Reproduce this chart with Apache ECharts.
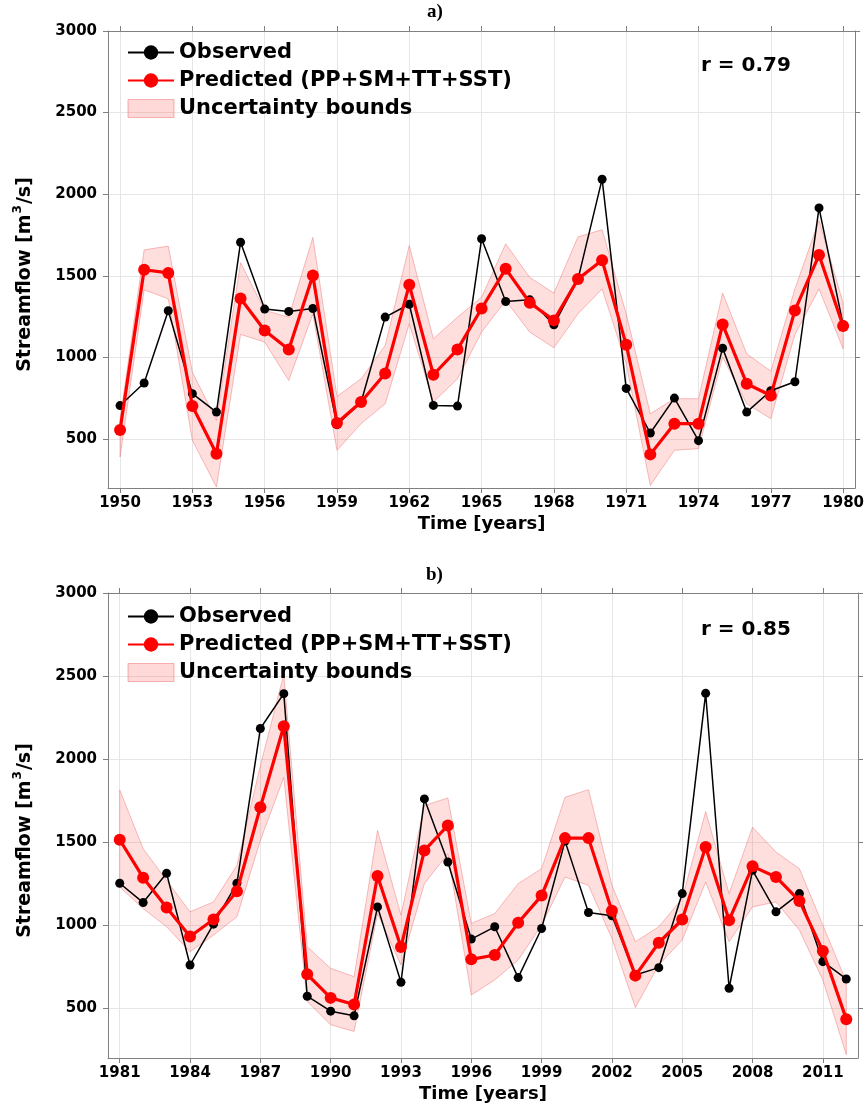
<!doctype html>
<html>
<head>
<meta charset="utf-8">
<script src="https://cdn.jsdelivr.net/npm/echarts@6/dist/echarts.min.js"></script>
<style>
	html, body { margin: 0; padding: 0; background: #fff; }
	#chart { width: 867px; height: 1109px; }
</style>
</head>
<body>
<div id="chart"></div>
<script>
// panel a) 1950-1980
var yearsA = [1950, 1951, 1952, 1953, 1954, 1955, 1956, 1957, 1958, 1959, 1960, 1961, 1962, 1963, 1964, 1965,
	1966, 1967, 1968, 1969, 1970, 1971, 1972, 1973, 1974, 1975, 1976, 1977, 1978, 1979, 1980]
var observedA = [705, 843, 1286, 778, 665, 1706, 1296, 1282, 1300, 588, 725, 1247, 1326, 706, 702, 1727,
	1343, 1353, 1200, 1480, 2092, 810, 537, 751, 490, 1057, 665, 796, 851, 1916, 1200]
var predictedA = [555, 1537, 1518, 702, 410, 1361, 1165, 1049, 1502, 598, 727, 902, 1445, 894, 1049, 1300,
	1543, 1335, 1227, 1480, 1596, 1078, 406, 594, 594, 1202, 839, 767, 1288, 1627, 1192]
var upperA = [620, 1659, 1682, 910, 614, 1580, 1288, 1247, 1735, 761, 869, 1073, 1686, 1114, 1247, 1369,
	1696, 1490, 1394, 1739, 1782, 1267, 655, 747, 747, 1394, 1022, 916, 1420, 1839, 1333]
var lowerA = [390, 1414, 1359, 492, 206, 1141, 1094, 859, 1267, 431, 594, 716, 1206, 727, 869, 1155,
	1349, 1155, 1059, 1267, 1420, 961, 216, 431, 441, 1002, 716, 625, 1140, 1420, 1053]

// panel b) 1981-2012
var yearsB = [1981, 1982, 1983, 1984, 1985, 1986, 1987, 1988, 1989, 1990, 1991, 1992, 1993, 1994, 1995, 1996,
	1997, 1998, 1999, 2000, 2001, 2002, 2003, 2004, 2005, 2006, 2007, 2008, 2009, 2010, 2011, 2012]
var observedB = [1252, 1136, 1312, 760, 1006, 1252, 2184, 2394, 572, 482, 454, 1110, 656, 1760, 1380, 916,
	990, 684, 980, 1506, 1076, 1056, 700, 744, 1190, 2396, 620, 1330, 1080, 1190, 780, 676]
var predictedB = [1514, 1286, 1106, 932, 1034, 1204, 1710, 2198, 704, 562, 522, 1296, 868, 1450, 1600, 794,
	820, 1014, 1178, 1524, 1524, 1086, 696, 894, 1034, 1470, 1030, 1354, 1290, 1146, 844, 434]
var upperB = [1814, 1460, 1270, 1080, 1140, 1360, 1960, 2510, 870, 740, 690, 1570, 1060, 1720, 1766, 1010,
	1070, 1250, 1340, 1770, 1816, 1240, 900, 990, 1160, 1684, 1190, 1590, 1440, 1340, 1000, 660]
var lowerB = [1230, 1100, 990, 840, 940, 1050, 1510, 1890, 540, 400, 360, 1070, 760, 1250, 1430, 580,
	670, 790, 1000, 1290, 1240, 920, 504, 760, 910, 1260, 900, 1110, 1140, 970, 670, 220]

var xTicksA = [1950, 1953, 1956, 1959, 1962, 1965, 1968, 1971, 1974, 1977, 1980]
var xTicksB = [1981, 1984, 1987, 1990, 1993, 1996, 1999, 2002, 2005, 2008, 2011]
var yTicks = [500, 1000, 1500, 2000, 2500, 3000]

var rLabels = ['r = 0.79', 'r = 0.85']
var panelLabels = ['a)', 'b)']
var names = ['Observed', 'Predicted (PP+SM+TT+SST)', 'Uncertainty bounds']

var font = '"DejaVu Sans", Arial, sans-serif'
var gridColor = '#e6e6e6'
var boxColor = '#808080'

function pairs(xs, ys) {
	return xs.map(function (x, i) { return [x, ys[i]] })
}

function bandRender(xs, up, low) {
	return function (params, api) {
		if (params.dataIndex !== 0) return
		var pts = []
		for (var i = 0; i < xs.length; i++) pts.push(api.coord([xs[i], up[i]]))
		for (var j = xs.length - 1; j >= 0; j--) pts.push(api.coord([xs[j], low[j]]))
		return {
			type: 'polygon',
			shape: { points: pts },
			style: { fill: 'rgba(255, 60, 60, 0.17)', stroke: 'rgba(235, 110, 110, 0.45)', lineWidth: 1 }
		}
	}
}

function xAxes(idx, min, max, ticks) {
	return [
		{
			type: 'value', gridIndex: idx, position: 'bottom', min: min, max: max,
			axisLine: { lineStyle: { color: boxColor, width: 1 } },
			axisTick: { show: true, inside: false, length: 5, customValues: ticks, lineStyle: { color: boxColor } },
			axisLabel: {
				customValues: ticks, margin: 8, color: '#000', fontFamily: font, fontWeight: 'bold', fontSize: 15,
				formatter: function (v) { return String(v) }
			},
			splitLine: { show: true, lineStyle: { color: gridColor, width: 1 } },
			name: 'Time [years]', nameLocation: 'middle', nameGap: 27,
			nameTextStyle: { color: '#000', fontFamily: font, fontWeight: 'bold', fontSize: 18 }
		},
		{
			type: 'value', gridIndex: idx, position: 'top', min: min, max: max,
			axisLine: { lineStyle: { color: boxColor, width: 1 } },
			axisTick: { show: true, inside: false, length: 5, customValues: ticks, lineStyle: { color: boxColor } },
			axisLabel: { show: false },
			splitLine: { show: false }
		}
	]
}

function yAxes(idx) {
	return [
		{
			type: 'value', gridIndex: idx, position: 'left', min: 200, max: 3000,
			axisLine: { show: true, lineStyle: { color: boxColor, width: 1 } },
			axisTick: { show: true, inside: false, length: 5, customValues: yTicks, lineStyle: { color: boxColor } },
			axisLabel: {
				customValues: yTicks, margin: 11, color: '#000', fontFamily: font, fontWeight: 'bold', fontSize: 15,
				formatter: function (v) { return String(v) }
			},
			splitLine: { show: true, lineStyle: { color: gridColor, width: 1 } },
			name: 'Streamflow [m{sup|3}/s]', nameLocation: 'middle', nameRotate: 90, nameGap: 70,
			nameTextStyle: {
				color: '#000', fontFamily: font, fontWeight: 'bold', fontSize: 19, padding: [0, 30, 0, 0],
				rich: { sup: { color: '#000', fontFamily: font, fontWeight: 'bold', fontSize: 12, padding: [0, 1, 14, 1] } }
			}
		},
		{
			type: 'value', gridIndex: idx, position: 'right', min: 200, max: 3000,
			axisLine: { show: true, lineStyle: { color: boxColor, width: 1 } },
			axisTick: { show: true, inside: false, length: 5, customValues: yTicks, lineStyle: { color: boxColor } },
			axisLabel: { show: false },
			splitLine: { show: false }
		}
	]
}

function panelSeries(axisIdx, xs, obs, pred, up, low) {
	return [
		{
			name: names[2], type: 'custom', xAxisIndex: axisIdx, yAxisIndex: axisIdx,
			renderItem: bandRender(xs, up, low),
			data: xs.map(function (x, i) { return [x, low[i], up[i]] }),
			encode: { x: 0, y: [1, 2] },
			itemStyle: { color: 'rgba(255, 60, 60, 0.17)' },
			z: 1, silent: true
		},
		{
			name: names[0], type: 'line', xAxisIndex: axisIdx, yAxisIndex: axisIdx,
			data: pairs(xs, obs),
			symbol: 'circle', symbolSize: 9, showSymbol: true,
			lineStyle: { color: '#000', width: 1.5 },
			itemStyle: { color: '#000' },
			z: 3
		},
		{
			name: names[1], type: 'line', xAxisIndex: axisIdx, yAxisIndex: axisIdx,
			data: pairs(xs, pred),
			symbol: 'circle', symbolSize: 12, showSymbol: true,
			lineStyle: { color: '#ff0000', width: 3.2 },
			itemStyle: { color: '#ff0000' },
			z: 4
		}
	]
}

function legendFor(top) {
	return {
		orient: 'vertical', left: 127, top: top, padding: 0,
		itemWidth: 46, itemHeight: 18, itemGap: 7,
		textStyle: { color: '#000', fontFamily: font, fontWeight: 'bold', fontSize: 21 },
		selectedMode: false,
		data: [
			{ name: names[0] },
			{ name: names[1] },
			{ name: names[2], icon: 'rect', itemStyle: { color: 'rgba(255, 60, 60, 0.2)', borderColor: 'rgba(235, 110, 110, 0.5)', borderWidth: 1 } }
		]
	}
}

var chart = echarts.init(document.getElementById('chart'), null, { renderer: 'canvas' })

var serifFont = 'bold 19px "Liberation Serif", "Times New Roman", serif'
var rFont = 'bold 20px "DejaVu Sans", Arial, sans-serif'

var option = {
	backgroundColor: '#fff',
	animation: false,
	grid: [
		{ left: 108, top: 31, width: 750, height: 457, containLabel: false },
		{ left: 108, top: 593, width: 750, height: 465, containLabel: false }
	],
	xAxis: xAxes(0, 1949.5, 1980.5, xTicksA).concat(xAxes(1, 1980.5, 2012.5, xTicksB)),
	yAxis: yAxes(0).concat(yAxes(1)),
	legend: [legendFor(42), legendFor(606)],
	graphic: [
		{ type: 'text', x: 427, y: 3, z: 100, style: { text: panelLabels[0], font: serifFont, fill: '#000' } },
		{ type: 'text', x: 426, y: 566, z: 100, style: { text: panelLabels[1], font: serifFont, fill: '#000' } },
		{ type: 'text', x: 701, y: 56, z: 100, style: { text: rLabels[0], font: rFont, fill: '#000' } },
		{ type: 'text', x: 701, y: 620, z: 100, style: { text: rLabels[1], font: rFont, fill: '#000' } }
	],
	series: panelSeries(0, yearsA, observedA, predictedA, upperA, lowerA)
		.concat(panelSeries(2, yearsB, observedB, predictedB, upperB, lowerB))
}

chart.setOption(option)
</script>
</body>
</html>
